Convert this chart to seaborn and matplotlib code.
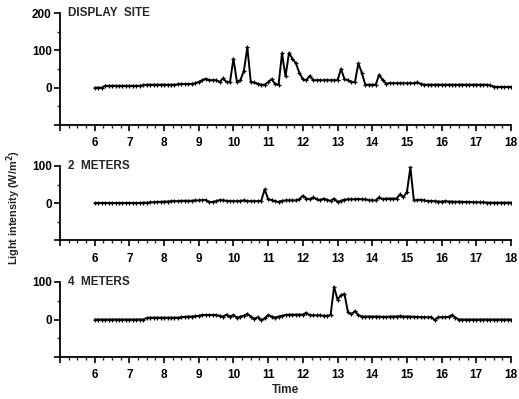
import numpy as np
import pandas as pd
import matplotlib
matplotlib.use("Agg")
import matplotlib.pyplot as plt
from matplotlib.ticker import MultipleLocator
import seaborn as sns

# Sampling times (hours), one reading every 6 minutes from 6:00 to 18:00
time_h = np.round(np.arange(6.0, 18.0001, 0.1), 1)

display_site = [
    0, 0, 0, 5, 5, 5, 5, 5, 5, 5,
    5, 5, 5, 5, 7, 8, 8, 8, 8, 8,
    8, 8, 8, 8, 9, 10, 10, 10, 10, 12,
    15, 20, 24, 20, 20, 20, 15, 25, 15, 15,
    78, 15, 20, 45, 108, 15, 14, 10, 8, 8,
    15, 23, 10, 8, 92, 30, 93, 78, 65, 40,
    22, 20, 32, 20, 20, 20, 20, 20, 20, 20,
    20, 50, 23, 20, 16, 14, 65, 40, 8, 8,
    8, 8, 35, 20, 11, 12, 12, 12, 12, 12,
    12, 12, 12, 14, 10, 8, 8, 8, 8, 8,
    8, 8, 8, 8, 8, 8, 8, 8, 8, 8,
    8, 8, 8, 8, 6, 3, 2, 2, 2, 2,
    2,
]

two_meters = [
    0, 0, 0, 0, 0, 0, 0, 0, 0, 0,
    0, 0, 0, 0, 1, 1, 2, 2, 3, 3,
    4, 4, 5, 5, 5, 6, 6, 6, 6, 7,
    7, 8, 8, 2, 3, 5, 8, 7, 6, 5,
    5, 5, 6, 7, 5, 5, 5, 5, 6, 37,
    10, 8, 5, 3, 6, 7, 7, 7, 7, 10,
    20, 12, 10, 15, 10, 8, 12, 8, 6, 12,
    3, 6, 9, 10, 10, 10, 11, 10, 10, 8,
    7, 7, 15, 10, 12, 12, 12, 12, 23, 16,
    30, 96, 7, 8, 9, 7, 5, 5, 5, 4,
    4, 5, 4, 4, 3, 4, 3, 3, 3, 2,
    2, 2, 2, 1, 1, 1, 1, 1, 1, 1,
    1,
]

four_meters = [
    0, 0, 0, 0, 0, 0, 0, 0, 0, 0,
    0, 0, 0, 0, 0, 4, 5, 5, 5, 5,
    5, 5, 5, 5, 5, 6, 7, 8, 8, 9,
    10, 12, 12, 12, 12, 12, 10, 8, 13, 8,
    12, 5, 8, 10, 15, 8, 2, 6, -2, 3,
    12, 8, 5, 8, 10, 12, 13, 13, 13, 13,
    13, 18, 11, 11, 11, 11, 10, 10, 12, 87,
    53, 65, 68, 20, 14, 22, 12, 8, 8, 8,
    8, 8, 8, 7, 7, 8, 8, 8, 9, 8,
    8, 8, 7, 7, 6, 6, 6, 6, -1, 6,
    6, 6, 7, 12, 5, 0, 0, 0, 0, 0,
    0, 0, 0, 0, 0, 0, 0, 0, 0, 0,
    0,
]

panel_titles = ["DISPLAY  SITE", "2  METERS", "4  METERS"]
x_tick_values = list(range(5, 19))
x_tick_labels = [""] + [str(h) for h in range(6, 19)]

sns.set_style("ticks")
plt.rcParams["font.family"] = ["Liberation Sans", "DejaVu Sans"]

fig = plt.figure(figsize=(5.19, 3.99), dpi=100)
W, H = 519.0, 399.0
left, right = 60 / W, 511 / W
panels = [
    (13, 125, -100, 200, display_site, [-100, 0, 100, 200], ["", "0", "100", "200"]),
    (166, 240, -100, 100, two_meters, [-100, 0, 100], ["", "0", "100"]),
    (282, 357, -100, 100, four_meters, [-100, 0, 100], ["", "0", "100"]),
]

axes = []
for (top, bot, ylo, yhi, vals, yt, ytl), title in zip(panels, panel_titles):
    ax = fig.add_axes([left, 1 - bot / H, right - left, (bot - top) / H])
    df = pd.DataFrame({"time": time_h, "value": vals})
    sns.lineplot(data=df, x="time", y="value", ax=ax, color="black",
                 linewidth=1.4, marker="+", markersize=3.5,
                 markeredgewidth=0.9, markeredgecolor="black")
    ax.set_xlim(5, 18)
    ax.set_ylim(ylo, yhi)
    ax.set_xticks(x_tick_values)
    ax.set_xticklabels(x_tick_labels)
    ax.set_yticks(yt)
    ax.set_yticklabels(ytl)
    ax.xaxis.set_minor_locator(MultipleLocator(0.25))
    ax.yaxis.set_minor_locator(MultipleLocator(50))
    ax.tick_params(axis="both", which="major", direction="out", length=4,
                   width=1.2, labelsize=8.5, colors="black", pad=2)
    ax.tick_params(axis="both", which="minor", direction="out", length=2.5,
                   width=1.0)
    ax.tick_params(axis="x", pad=5)
    for lab in ax.get_xticklabels() + ax.get_yticklabels():
        lab.set_fontweight("bold")
    for s in ["top", "right"]:
        ax.spines[s].set_visible(False)
    for s in ["left", "bottom"]:
        ax.spines[s].set_linewidth(1.3)
        ax.spines[s].set_color("black")
    ax.set_xlabel("")
    ax.set_ylabel("")
    ax.text(0.017, 1.0, title, transform=ax.transAxes, fontsize=8.5,
            fontweight="bold", ha="left", va="center")
    ax.patch.set_alpha(0)
    axes.append(ax)

axes[2].set_xlabel("Time", fontsize=8.5, fontweight="bold", labelpad=2)
fig.text(14 / W, 1 - 208 / H, "Light intensity (W/m$^\\mathbf{2}$)",
         rotation=90, fontsize=7.8, fontweight="bold", ha="center", va="center")

fig.savefig("out.png", dpi=100)
